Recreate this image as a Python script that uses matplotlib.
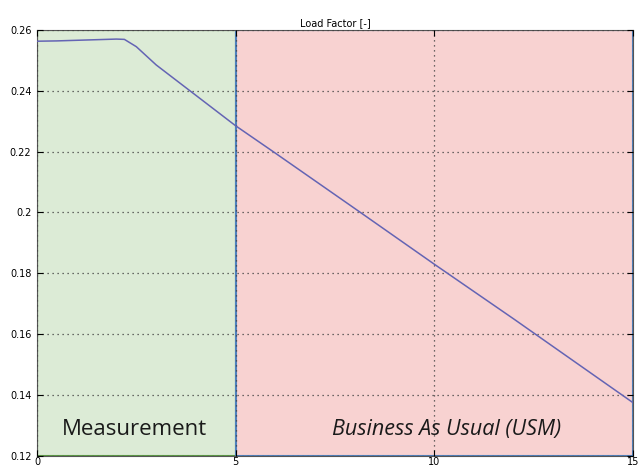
import matplotlib.pyplot as plt
from matplotlib.patches import Rectangle

# load factor curve
years = [0, 0.5, 1, 1.5, 2, 2.2, 2.5, 3, 3.5, 4, 5, 6, 8, 10, 12, 15]
load_factor = [0.2563, 0.2564, 0.2566, 0.2568, 0.2570, 0.2569, 0.2545, 0.2485,
               0.2435, 0.2385, 0.2285, 0.2195, 0.2013, 0.1830, 0.1650, 0.1375]

phase_names = ['Measurement', 'Business As Usual (USM)']
phase_start = [0, 5]
phase_end = [5, 15]

x_ticks = [0, 5, 10, 15]
y_ticks = [0.12, 0.14, 0.16, 0.18, 0.2, 0.22, 0.24, 0.26]
y_labels = ['0.12', '0.14', '0.16', '0.18', '0.2', '0.22', '0.24', '0.26']

fig = plt.figure(figsize=(6.38, 4.68), dpi=100)
ax = fig.add_axes([0.058, 0.026, 0.934, 0.91])

ymin, ymax = 0.12, 0.26
fills = ['#dcebd6', '#f8d2d1']
edges = ['#5c9b45', '#4f81bd']
for s, e, f, ec in zip(phase_start, phase_end, fills, edges):
    ax.add_patch(Rectangle((s, ymin), e - s, ymax - ymin, facecolor=f,
                           edgecolor=ec, linewidth=1.5, zorder=0))

ax.plot(years, load_factor, color='#6464b4', linewidth=1.1, zorder=3)

ax.text(2.45, 0.1287, phase_names[0], fontsize=16, family='Open Sans',
        ha='center', va='center', color='#1a1a1a')
ax.text(10.3, 0.1287, phase_names[1], fontsize=15.5, family='Open Sans',
        style='italic', ha='center', va='center', color='#1a1a1a')

ax.set_xlim(0, 15)
ax.set_ylim(ymin, ymax)
ax.set_xticks(x_ticks)
ax.set_yticks(y_ticks)
ax.set_yticklabels(y_labels)
ax.tick_params(direction='in', labelsize=7, length=4, top=True, right=True)
ax.tick_params(axis='x', pad=1)
ax.tick_params(axis='y', pad=4)
ax.grid(True, linestyle=(0, (1, 3)), color='#404040', linewidth=0.9)
ax.set_axisbelow(False)
for sp in ax.spines.values():
    sp.set_color('#555555')
    sp.set_linewidth(0.8)
ax.set_title('Load Factor [-]', fontsize=7, pad=3)

fig.savefig('out.png', dpi=100)
